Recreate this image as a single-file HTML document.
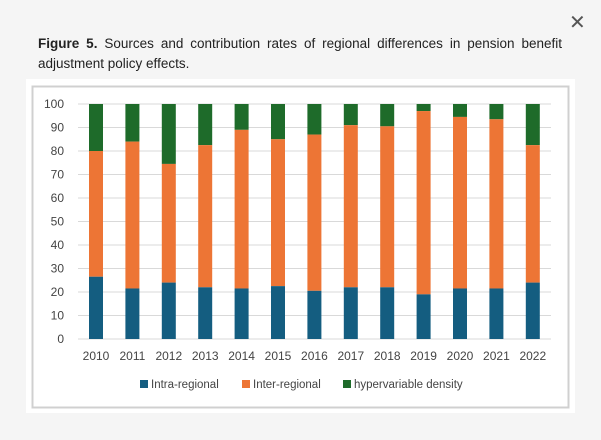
<!DOCTYPE html><html><head><style>
body{margin:0;width:601px;height:440px;background:#f5f5f5;font-family:"Liberation Sans",sans-serif;position:relative;overflow:hidden}
.cap{position:absolute;left:38px;top:34px;width:524px;font-size:13.5px;line-height:20px;color:#222;text-align:justify;text-align-last:left}
.x{position:absolute;left:569px;top:10px;font-size:20px;color:#555}
</style></head><body>
<div class="x">✕</div>
<div class="cap"><b>Figure 5.</b> Sources and contribution rates of regional differences in pension benefit adjustment policy effects.</div>
<svg style="position:absolute;left:0;top:0" width="601" height="440">
<rect x="26" y="79" width="549" height="334" fill="#fff"/>
<rect x="32.5" y="86.5" width="536" height="321" fill="#fff" stroke="#d0d0d0" stroke-width="2"/>
<g id="g" font-size="12" fill="#444" text-anchor="end"></g>
</svg>
<script>
var g=document.getElementById('g'),s='';
for(var i=0;i<=10;i++){var y=339-i*23.5;s+='<line x1="78" x2="551" y1="'+y+'" y2="'+y+'" stroke="#d9d9d9"/><text x="64" y="'+(y+4)+'">'+(i*10)+'</text>';}
var d=[[26.5,80],[21.5,84],[24,74.5],[22,82.5],[21.5,89],[22.5,85],[20.5,87],[22,91],[22,90.5],[19,97],[21.5,94.5],[21.5,93.5],[24,82.5]];
d.forEach(function(v,i){var cx=96+i*36.4,x=cx-7,f=function(a){return 339-a*2.35};
s+='<rect x="'+x+'" y="'+f(100)+'" width="14" height="'+(f(v[1])-f(100))+'" fill="#1e6b2a"/>';
s+='<rect x="'+x+'" y="'+f(v[1])+'" width="14" height="'+(f(v[0])-f(v[1]))+'" fill="#ed7535"/>';
s+='<rect x="'+x+'" y="'+f(v[0])+'" width="14" height="'+(339-f(v[0]))+'" fill="#145d80"/>';
s+='<text x="'+cx+'" y="360" text-anchor="middle">'+(2010+i)+'</text>';});
s+='<rect x="140" y="380" width="8" height="8" fill="#145d80"/><text x="151" y="388" text-anchor="start" font-size="11.5">Intra-regional</text>';
s+='<rect x="242" y="380" width="8" height="8" fill="#ed7535"/><text x="253" y="388" text-anchor="start" font-size="11.5">Inter-regional</text>';
s+='<rect x="343" y="380" width="8" height="8" fill="#1e6b2a"/><text x="354" y="388" text-anchor="start" font-size="11.5">hypervariable density</text>';
g.innerHTML=s;
</script>
</body></html>
